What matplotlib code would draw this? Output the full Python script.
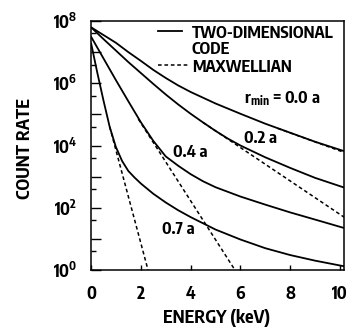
import matplotlib
matplotlib.use("Agg")
import matplotlib.pyplot as plt
from matplotlib import font_manager
from matplotlib.font_manager import FontProperties
from matplotlib.textpath import TextPath
import numpy as np

# ---------------- data (log10 of count rate) ----------------
energy_r00 = [0, 0.5, 1, 1.5, 2, 2.5, 3, 3.5, 4, 5, 6, 7, 8, 9, 10.16]
logcount_r00 = [7.8, 7.55, 7.3, 7.0, 6.72, 6.43, 6.17, 5.93, 5.72, 5.35, 5.02, 4.7, 4.41, 4.12, 3.82]

energy_r02 = [0, 0.5, 1, 1.5, 2, 2.5, 3, 3.5, 4, 4.5, 5, 5.5, 6, 7, 8, 9, 10.16]
logcount_r02 = [7.8, 7.42, 7.05, 6.68, 6.33, 5.98, 5.64, 5.32, 5.02, 4.74, 4.47, 4.22, 4.0, 3.62, 3.28, 2.96, 2.65]

energy_r04 = [0, 0.5, 1, 1.5, 2, 2.5, 3, 3.5, 4, 4.5, 5, 6, 7, 8, 9, 10.16]
logcount_r04 = [7.5, 6.8, 6.1, 5.42, 4.75, 4.15, 3.65, 3.35, 3.08, 2.85, 2.66, 2.36, 2.1, 1.85, 1.62, 1.35]

energy_r07 = [0, 0.25, 0.5, 0.75, 1.0, 1.25, 1.5, 1.75, 2.0, 2.5, 3.0, 3.5, 4.0, 5.0, 6.0, 7.0, 8.0, 9.0, 10.16]
logcount_r07 = [7.3, 6.35, 5.45, 4.6, 3.95, 3.5, 3.18, 2.97, 2.78, 2.45, 2.17, 1.92, 1.7, 1.3, 0.98, 0.7, 0.48, 0.3, 0.12]

# Maxwellian fits (straight lines on semi-log axes): end points
maxw_energy_r00 = [7.5, 10.16]
maxw_logcount_r00 = [4.55, 3.78]
maxw_energy_r02 = [4.5, 10.16]
maxw_logcount_r02 = [4.74, 1.70]
maxw_energy_r04 = [1.9, 5.78]
maxw_logcount_r04 = [4.85, 0.0]
maxw_energy_r07 = [0.75, 2.29]
maxw_logcount_r07 = [4.6, 0.0]

curve_labels = ["r$_{\\mathrm{min}}$ = 0.0 a", "0.2 a", "0.4 a", "0.7 a"]
curve_label_pos = [(6.14, 5.36), (6.14, 4.07), (3.28, 3.64), (2.84, 1.16)]

legend_labels = ["TWO-DIMENSIONAL", "CODE", "MAXWELLIAN"]

x_ticks = [0, 2, 4, 6, 8, 10]
y_major = [1e0, 1e1, 1e2, 1e3, 1e4, 1e5, 1e6, 1e7, 1e8]
y_labels = ["$10^{0}$", "", "$10^{2}$", "", "$10^{4}$", "", "$10^{6}$", "", "$10^{8}$"]
y_minor = [4e0, 4e1, 4e2, 4e3, 4e4, 4e5, 4e6, 4e7]

# ---------------- fonts: pick the condensed face whose proportions match best ----------------
avail = {f.name for f in font_manager.fontManager.ttflist}
target_ratio = 143 / 12.7
candidates = ["Roboto Condensed", "PT Sans Narrow", "IBM Plex Sans Condensed",
              "Fira Sans Condensed", "Fira Sans Extra Condensed", "Archivo Narrow",
              "Encode Sans Condensed", "Sofia Sans Condensed", "Barlow Condensed",
              "Liberation Sans Narrow"]
fam, best = "DejaVu Sans", 1e9
for cand in candidates:
    if cand not in avail:
        continue
    try:
        tp = TextPath((0, 0), "TWO-DIMENSIONAL", size=20,
                      prop=FontProperties(family=cand, weight="bold"))
        ext = tp.get_extents()
        r = ext.width / ext.height
    except Exception:
        continue
    if abs(r - target_ratio) < best:
        best, fam = abs(r - target_ratio), cand

plt.rcParams["font.family"] = [fam, "DejaVu Sans"]
plt.rcParams["font.weight"] = "bold"
plt.rcParams["mathtext.fontset"] = "custom"
plt.rcParams["mathtext.rm"] = fam + ":bold"
plt.rcParams["mathtext.it"] = fam + ":bold"
plt.rcParams["mathtext.bf"] = fam + ":bold"

# digit ink height per point of font size (for tick-label sizing)
_tp = TextPath((0, 0), "0", size=100, prop=FontProperties(family=fam, weight="bold"))
digit_h_per_pt = _tp.get_extents().height / 100.0  # in points per point
tick_size = (13 * 72 / 100) / digit_h_per_pt

fig = plt.figure(figsize=(3.47, 3.35), dpi=100)
ax = fig.add_axes([91 / 347, 65 / 335, 253 / 347, 249 / 335])

lw = 1.3
dash = (2.4, 1.8)
for e, lc in [(energy_r00, logcount_r00), (energy_r02, logcount_r02),
              (energy_r04, logcount_r04), (energy_r07, logcount_r07)]:
    ax.plot(e, 10 ** np.array(lc), color="black", lw=lw, solid_capstyle="butt")
for e, lc in [(maxw_energy_r00, maxw_logcount_r00), (maxw_energy_r02, maxw_logcount_r02),
              (maxw_energy_r04, maxw_logcount_r04), (maxw_energy_r07, maxw_logcount_r07)]:
    ax.plot(e, 10 ** np.array(lc), color="black", lw=1.1, linestyle=(0, dash))

ax.set_yscale("log")
ax.set_xlim(0, 10.16)
ax.set_ylim(1, 1e8)

ax.set_xticks(x_ticks)
ax.set_xticklabels([str(v) for v in x_ticks])
ax.set_yticks(y_major)
ax.set_yticklabels(y_labels)
ax.set_yticks(y_minor, minor=True)
ax.yaxis.set_minor_formatter(matplotlib.ticker.NullFormatter())
ax.set_xticks([], minor=True)

ax.tick_params(axis="both", which="major", direction="in", width=1.0, labelsize=tick_size)
ax.tick_params(axis="y", which="major", length=7, pad=9.8)
ax.tick_params(axis="y", which="minor", direction="in", length=3.5, width=1.0)
ax.tick_params(axis="x", which="major", length=3.6, pad=10.5)
for s in ax.spines.values():
    s.set_linewidth(1.1)

xl = ax.set_xlabel("ENERGY (keV)", fontsize=12, fontweight="bold")
yl = ax.set_ylabel("COUNT RATE", fontsize=12, fontweight="bold")
xl.set_va("baseline")
ax.xaxis.set_label_coords(0.498, -0.213)
yl.set_va("baseline")
ax.yaxis.set_label_coords(-0.241, 0.486)

clabs = []
for txt, (x, y) in zip(curve_labels, curve_label_pos):
    clabs.append(ax.text(x, 10 ** y, txt, fontsize=12.5, fontweight="bold",
                         ha="left", va="baseline"))

# legend drawn manually in axes coordinates
ax.plot([0.2648, 0.3597], [0.9586, 0.9586], color="black", lw=lw, transform=ax.transAxes)
ax.plot([0.2648, 0.383], [0.823, 0.823], color="black", lw=1.1, linestyle=(0, dash),
        transform=ax.transAxes)
leg_texts = []
for lab, yb in zip(legend_labels, [0.933, 0.866, 0.796]):
    leg_texts.append(ax.text(0.399, yb, lab, transform=ax.transAxes, fontsize=12.3,
                             fontweight="bold", ha="left", va="baseline"))


def fit(texts, ref, target_px):
    fig.canvas.draw()
    w = ref.get_window_extent().width
    scale = target_px / w
    for t in texts:
        t.set_fontsize(t.get_fontsize() * scale)


fit(leg_texts, leg_texts[0], 143)
fit([xl, yl], xl, 107)
fit(clabs, clabs[1], 33)

fig.savefig("out.png", dpi=100)
